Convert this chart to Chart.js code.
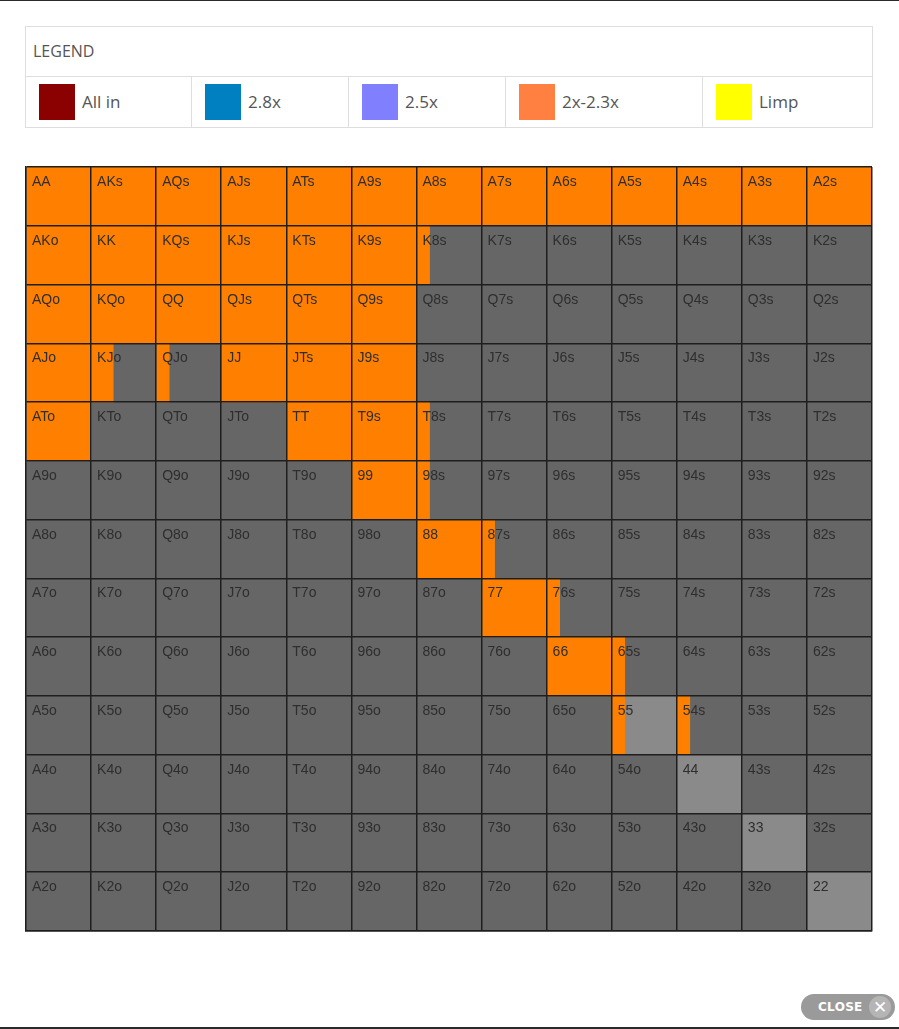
<!DOCTYPE html>
<html>
<head>
<meta charset="utf-8">
<script src="https://cdn.jsdelivr.net/npm/chart.js@4/dist/chart.umd.min.js"></script>
<style>
  html, body { margin: 0; padding: 0; background: #fff; width: 899px; height: 1029px; overflow: hidden; position: relative; font-family: "Open Sans", sans-serif; }
  .topline { position: absolute; left: 0; top: 0; width: 899px; height: 1px; background: #2a2a2a; }
  .botline { position: absolute; left: 0; top: 1027px; width: 899px; height: 2px; background: #2a2a2a; }
  .legend { position: absolute; left: 25px; top: 26px; width: 846px; height: 100px; border: 1px solid #dedede; box-sizing: content-box; }
  .legend .head { height: 49px; border-bottom: 1px solid #dedede; color: #555; font-size: 16px; line-height: 49px; padding-left: 7px; }
  .legend .row { position: relative; height: 50px; }
  .legend .item { position: absolute; top: 0; height: 50px; border-right: 1px solid #dedede; box-sizing: border-box; }
  .legend .sw { position: absolute; left: 13px; top: 7px; width: 36px; height: 36px; }
  .legend .tx { position: absolute; left: 56px; top: 0; line-height: 50px; font-size: 17px; color: #555; }
  #wrap { position: absolute; left: 24px; top: 165px; width: 850px; height: 768px; }
  .close { position: absolute; left: 801px; top: 994px; width: 94px; height: 26px; border-radius: 13px; background: #9a9a9a; }
  .close .ct { position: absolute; left: 17px; top: 0; line-height: 26px; color: #fff; font-weight: bold; font-size: 12px; font-family: "DejaVu Sans", sans-serif; letter-spacing: 0.3px; }
  .close .cx { position: absolute; right: 4px; top: 2px; width: 22px; height: 22px; border-radius: 11px; background: #b5b5b5; color: #fff; font-weight: bold; font-size: 17px; line-height: 22px; text-align: center; font-family: "DejaVu Sans", sans-serif; }
</style>
</head>
<body>
<div class="topline"></div>
<div class="legend">
  <div class="head">LEGEND</div>
  <div class="row" id="legendRow"></div>
</div>
<div id="wrap"><canvas id="c" width="850" height="768"></canvas></div>
<div class="close"><span class="ct">CLOSE</span><span class="cx">✕</span></div>
<div class="botline"></div>
<script>
// ---- Data ----
const ranks = ['A','K','Q','J','T','9','8','7','6','5','4','3','2'];
const legendLabels = ['All in','2.8x','2.5x','2x-2.3x','Limp'];
const legendColors = ['#8b0000','#0080c0','#8080ff','#ff8040','#ffff00'];
// fraction of each cell raised (orange), row by row (rows = first rank, cols = second rank)
const rowA = [1,1,1,1,1,1,1,1,1,1,1,1,1];
const rowK = [1,1,1,1,1,1,0.2,0,0,0,0,0,0];
const rowQ = [1,1,1,1,1,1,0,0,0,0,0,0,0];
const rowJ = [1,0.34,0.2,1,1,1,0,0,0,0,0,0,0];
const rowT = [1,0,0,0,1,1,0.2,0,0,0,0,0,0];
const row9 = [0,0,0,0,0,1,0.2,0,0,0,0,0,0];
const row8 = [0,0,0,0,0,0,1,0.2,0,0,0,0,0];
const row7 = [0,0,0,0,0,0,0,1,0.2,0,0,0,0];
const row6 = [0,0,0,0,0,0,0,0,1,0.2,0,0,0];
const row5 = [0,0,0,0,0,0,0,0,0,0.2,0.2,0,0];
const row4 = [0,0,0,0,0,0,0,0,0,0,0,0,0];
const row3 = [0,0,0,0,0,0,0,0,0,0,0,0,0];
const row2 = [0,0,0,0,0,0,0,0,0,0,0,0,0];
const raiseFraction = [rowA,rowK,rowQ,rowJ,rowT,row9,row8,row7,row6,row5,row4,row3,row2];
// cells whose non-raised part is shown in light grey
const lightCells = ['55','44','33','22'];

const ORANGE = '#ff8000', DARK = '#666666', LIGHT = '#8a8a8a';

// ---- Legend (HTML) ----
const legendLefts = [0,166,323,480,677];
const legendWidths = [166,157,157,197,169];
const lr = document.getElementById('legendRow');
legendLabels.forEach((l,i)=>{
  const d = document.createElement('div');
  d.className = 'item';
  d.style.left = legendLefts[i]+'px';
  d.style.width = legendWidths[i]+'px';
  if (i === legendLabels.length-1) d.style.borderRight = 'none';
  d.innerHTML = '<div class="sw" style="background:'+legendColors[i]+'"></div><div class="tx">'+l+'</div>';
  lr.appendChild(d);
});

function handName(r, c) {
  if (r === c) return ranks[r] + ranks[c];
  if (c > r) return ranks[r] + ranks[c] + 's';
  return ranks[c] + ranks[r] + 'o';
}

// ---- Datasets ----
const datasets = [];
for (let c = 0; c < 13; c++) {
  datasets.push({
    label: 'raise ' + c,
    stack: 'grid',
    data: ranks.map((_, r) => raiseFraction[r][c] > 0 ? [c, c + raiseFraction[r][c]] : null),
    backgroundColor: ORANGE,
    borderWidth: 0,
    barPercentage: 1, categoryPercentage: 1
  });
  datasets.push({
    label: 'fold ' + c,
    stack: 'grid',
    data: ranks.map((_, r) => raiseFraction[r][c] < 1 ? [c + raiseFraction[r][c], c + 1] : null),
    backgroundColor: ranks.map((_, r) => lightCells.includes(handName(r, c)) ? LIGHT : DARK),
    borderWidth: 0,
    barPercentage: 1, categoryPercentage: 1
  });
}

const labelPlugin = {
  id: 'cellLabels',
  afterDatasetsDraw(chart) {
    const ctx = chart.ctx, xs = chart.scales.x, ys = chart.scales.y;
    ctx.save();
    ctx.font = '14px "Liberation Sans", "DejaVu Sans", sans-serif';
    ctx.fillStyle = '#2e2e2e';
    ctx.textBaseline = 'alphabetic';
    ctx.textAlign = 'left';
    const half = (ys.getPixelForValue(1) - ys.getPixelForValue(0)) / 2;
    for (let r = 0; r < 13; r++) {
      for (let c = 0; c < 13; c++) {
        const x = xs.getPixelForValue(c) + 6;
        const y = ys.getPixelForValue(r) - half + 19;
        ctx.fillText(handName(r, c), x, y);
      }
    }
    ctx.restore();
  }
};

new Chart(document.getElementById('c'), {
  type: 'bar',
  data: { labels: ranks, datasets },
  options: {
    indexAxis: 'y',
    responsive: false,
    animation: false,
    layout: { padding: 2 },
    plugins: { legend: { display: false }, tooltip: { enabled: false } },
    scales: {
      x: {
        type: 'linear', min: 0, max: 13, stacked: false, z: 1,
        ticks: { display: false, stepSize: 1 },
        grid: { color: '#1e1e1e', lineWidth: 1.5, drawTicks: false, z: 1 },
        border: { color: '#1e1e1e', width: 1.5, z: 1 }
      },
      y: {
        type: 'category', stacked: true, z: 1, offset: true,
        ticks: { display: false },
        grid: { color: '#1e1e1e', lineWidth: 1.5, drawTicks: false, offset: true, z: 1 },
        border: { color: '#1e1e1e', width: 1.5, z: 1 }
      }
    }
  },
  plugins: [labelPlugin]
});
</script>
</body>
</html>
